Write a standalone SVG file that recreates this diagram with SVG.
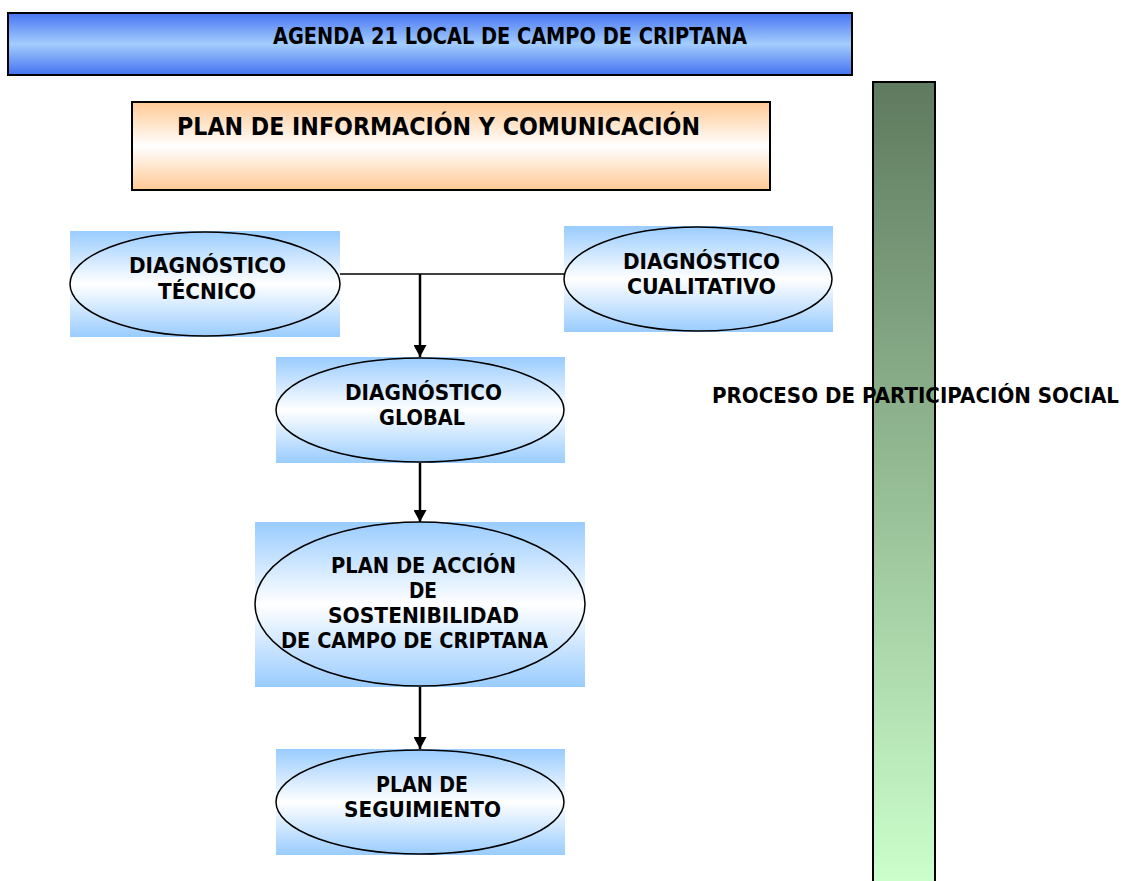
<svg xmlns="http://www.w3.org/2000/svg" width="1125" height="881" viewBox="0 0 1125 881">
<defs>
<linearGradient id="gTop" x1="0" y1="0" x2="0" y2="1">
<stop offset="0" stop-color="#4674f2"/><stop offset="0.5" stop-color="#a3cdfd"/><stop offset="1" stop-color="#4472f0"/>
</linearGradient>
<linearGradient id="gOrange" x1="0" y1="0" x2="0" y2="1">
<stop offset="0" stop-color="#ffc994"/><stop offset="0.5" stop-color="#ffffff"/><stop offset="1" stop-color="#ffc994"/>
</linearGradient>
<linearGradient id="gGreen" x1="0" y1="0" x2="0" y2="1">
<stop offset="0" stop-color="#5f7a5f"/><stop offset="1" stop-color="#ccffcc"/>
</linearGradient>
<linearGradient id="gBlue" x1="0" y1="0" x2="0" y2="1">
<stop offset="0" stop-color="#99ccff"/><stop offset="0.5" stop-color="#ffffff"/><stop offset="1" stop-color="#99ccff"/>
</linearGradient>
<marker id="arr" markerWidth="12" markerHeight="13" refX="12" refY="6.5" orient="auto" markerUnits="userSpaceOnUse" viewBox="0 0 12 13">
<path d="M0,0 L12,6.5 L0,13 Z" fill="#000"/>
</marker>
</defs>
<style>
text{font-family:"DejaVu Sans",Verdana,sans-serif;font-weight:bold;fill:#000;}
.n{font-size:20.5px;}
.e{fill:none;stroke:#000;stroke-width:1.5;}
.bg{fill:url(#gBlue);}
.c{stroke:#000;fill:none;}
</style>
<rect width="1125" height="881" fill="#fff"/>
<g id="title">
<rect x="8" y="13" width="844" height="62" fill="url(#gTop)" stroke="#000" stroke-width="2"/>
<text x="273" y="44" font-size="23" textLength="474" lengthAdjust="spacingAndGlyphs">AGENDA 21 LOCAL DE CAMPO DE CRIPTANA</text>
</g>
<g id="plan-info">
<rect x="132" y="102" width="638" height="88" fill="url(#gOrange)" stroke="#000" stroke-width="2"/>
<text x="177" y="135" font-size="24" textLength="523" lengthAdjust="spacingAndGlyphs">PLAN DE INFORMACIÓN Y COMUNICACIÓN</text>
</g>
<g id="participacion">
<rect x="873" y="82" width="62" height="805" fill="url(#gGreen)" stroke="#000" stroke-width="2"/>
<text x="712" y="403" class="n" textLength="407" lengthAdjust="spacingAndGlyphs">PROCESO DE PARTICIPACIÓN SOCIAL</text>
</g>
<g id="connectors">
<line class="c" x1="340" y1="274" x2="564" y2="274" stroke-width="1.5"/>
<line class="c" x1="420" y1="274" x2="420" y2="357" stroke-width="2.5" marker-end="url(#arr)"/>
<line class="c" x1="420" y1="460" x2="420" y2="522" stroke-width="2.5" marker-end="url(#arr)"/>
<line class="c" x1="420" y1="686" x2="420" y2="749" stroke-width="2.5" marker-end="url(#arr)"/>
</g>
<g id="diag-tecnico">
<rect class="bg" x="70" y="231" width="270" height="106"/>
<ellipse class="e" cx="205" cy="284" rx="135" ry="52"/>
<text class="n" x="129" y="273" textLength="157" lengthAdjust="spacingAndGlyphs">DIAGNÓSTICO</text>
<text class="n" x="158" y="299" textLength="98" lengthAdjust="spacingAndGlyphs">TÉCNICO</text>
</g>
<g id="diag-cualitativo">
<rect class="bg" x="564" y="226" width="269" height="106"/>
<ellipse class="e" cx="698" cy="279" rx="134" ry="52"/>
<text class="n" x="623" y="269" textLength="157" lengthAdjust="spacingAndGlyphs">DIAGNÓSTICO</text>
<text class="n" x="627" y="294" textLength="149" lengthAdjust="spacingAndGlyphs">CUALITATIVO</text>
</g>
<g id="diag-global">
<rect class="bg" x="276" y="357" width="289" height="106"/>
<ellipse class="e" cx="420" cy="410" rx="144" ry="52"/>
<text class="n" x="345" y="400" textLength="157" lengthAdjust="spacingAndGlyphs">DIAGNÓSTICO</text>
<text class="n" x="379" y="425" textLength="86" lengthAdjust="spacingAndGlyphs">GLOBAL</text>
</g>
<g id="plan-accion">
<rect class="bg" x="255" y="522" width="330" height="165"/>
<ellipse class="e" cx="420" cy="604" rx="165" ry="82"/>
<text class="n" x="331" y="573" textLength="185" lengthAdjust="spacingAndGlyphs">PLAN DE ACCIÓN</text>
<text class="n" x="409" y="598" textLength="28" lengthAdjust="spacingAndGlyphs">DE</text>
<text class="n" x="328" y="623" textLength="191" lengthAdjust="spacingAndGlyphs">SOSTENIBILIDAD</text>
<text class="n" x="281" y="648" textLength="267" lengthAdjust="spacingAndGlyphs">DE CAMPO DE CRIPTANA</text>
</g>
<g id="plan-seguimiento">
<rect class="bg" x="276" y="749" width="289" height="106"/>
<ellipse class="e" cx="420" cy="802" rx="144" ry="52"/>
<text class="n" x="376" y="792" textLength="92" lengthAdjust="spacingAndGlyphs">PLAN DE</text>
<text class="n" x="344" y="817" textLength="157" lengthAdjust="spacingAndGlyphs">SEGUIMIENTO</text>
</g>
</svg>
